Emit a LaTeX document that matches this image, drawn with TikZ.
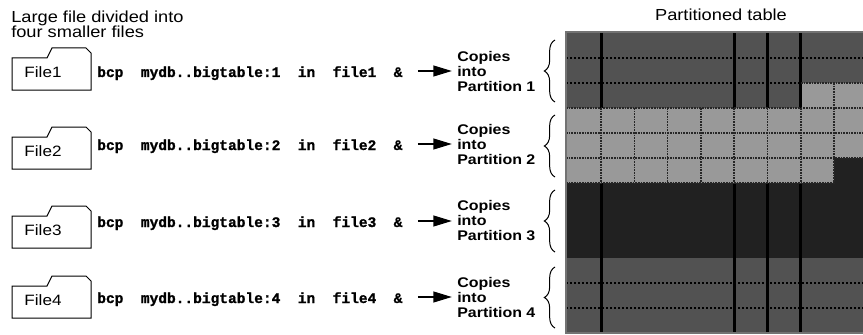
\documentclass[tikz,border=0pt]{standalone}
\usepackage{fontspec}
\usepackage{tikz}
\usetikzlibrary{positioning,arrows.meta,decorations.pathreplacing}
\newfontfamily\helv[FakeStretch=1.14]{Liberation Sans}
\newfontfamily\cour[BoldFeatures={FakeBold=1.2}]{Liberation Mono}

\begin{document}
\begin{tikzpicture}[x=0.75pt, y=-0.75pt,
  lbl/.style={font=\helv\fontsize{12}{11.25}\selectfont, inner sep=0pt},
  flbl/.style={font=\helv\fontsize{11.25}{11.25}\selectfont, inner sep=0pt},
  cmd/.style={font=\cour\bfseries\fontsize{10.9}{12}\selectfont, inner sep=0pt,
              anchor=west, text height=10pt, text depth=1pt},
  dest/.style={font=\helv\bfseries\fontsize{10.5}{11.25}\selectfont, inner sep=0pt,
               anchor=west, align=left},
  folder/.style={draw, line width=0.75pt},
  arr/.style={-{Triangle[length=14pt, width=8pt]}, line width=1.6pt,
              shorten <=11.25pt, shorten >=3.75pt},
  brc/.style={decorate, decoration={brace, amplitude=8pt}, line width=0.75pt},
  colrule/.style={line width=2.25pt, black},
  dashrule/.style={line width=1.5pt, black, dash pattern=on 1.5pt off 1.5pt},
  cellrule/.style={line width=1.2pt, black!85, dash pattern=on 1.2pt off 0.8pt}]

\path[use as bounding box, fill=white] (0,0) rectangle (863,335);

% headings
\node[lbl, anchor=north west, align=left] (title) at (11,11)
  {Large file divided into\\four smaller files};
\node[lbl] (ptitle) at (721,15) {Partitioned table};

% files, commands and targets
\foreach \i/\ay/\fy in {1/71/72, 2/144/151, 3/221/230, 4/297/300} {
  \draw[folder] (12,\fy+18) -- (12,\fy-14) -- (47,\fy-14) -- (52,\fy-24)
    -- (86,\fy-24) -- (91,\fy-19) -- (91,\fy+18) -- cycle;
  \node[flbl] (f\i) at (43,\fy) {File\i};
  \node[cmd] (cmd\i) at (97,\ay) {bcp\ \ mydb..bigtable:\i\ \ in\ \ file\i\ \ \&};
  \node[dest] (cp\i) at (457,\ay) {Copies\\into\\Partition \i};
  \draw[arr] (cmd\i) -- (cp\i);
}
\foreach \t/\b in {40/102, 115/177, 190/252, 267/328}
  \draw[brc] (555,\b) -- (555,\t);

% partitioned table
\fill[black!68] (566,32) -- (863,32) -- (863,83) -- (801,83) -- (801,108)
  -- (566,108) -- cycle;
\fill[black!40] (801,83) -- (863,83) -- (863,158) -- (834,158) -- (834,183)
  -- (566,183) -- (566,108) -- (801,108) -- cycle;
\fill[black!87] (834,158) -- (863,158) -- (863,258) -- (566,258) -- (566,183)
  -- (834,183) -- cycle;
\fill[black!68] (566,258) rectangle (863,333);

\foreach \k in {1,5,6,7} {
  \draw[colrule] ({567.7+33.3*\k},32) -- ({567.7+33.3*\k},108);
  \draw[colrule] ({567.7+33.3*\k},183) -- ({567.7+33.3*\k},333);
}
\draw[dashrule] (566,58) -- (863,58);
\draw[dashrule] (566,83) -- (801,83);
\foreach \y in {283,308} \draw[dashrule] (566,\y) -- (863,\y);

\foreach \k in {1,...,8}
  \draw[cellrule] ({567.7+33.3*\k},108) -- ({567.7+33.3*\k},183);
\draw[cellrule] (834,83) -- (834,108);
\foreach \y in {108,133,158} \draw[cellrule] (566,\y) -- (863,\y);
\draw[cellrule] (566,183) -- (834,183);
\draw[cellrule] (801,83) -- (863,83);

\draw[black!55, line width=1.5pt] (863,32) -- (566,32) -- (566,333) -- (863,333);
\end{tikzpicture}
\end{document}
